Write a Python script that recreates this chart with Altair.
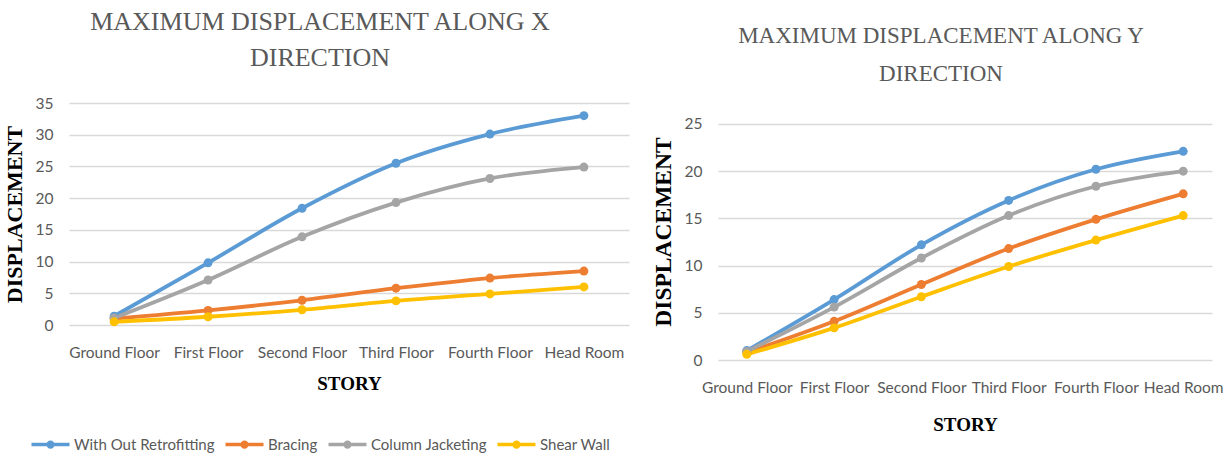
import altair as alt
import pandas as pd

stories = ["Ground Floor", "First Floor", "Second Floor", "Third Floor", "Fourth Floor", "Head Room"]
series = ["With Out Retrofitting", "Bracing", "Column Jacketing", "Shear Wall"]
colors = ["#5B9BD5", "#ED7D31", "#A5A5A5", "#FFC000"]

# Maximum displacement along X
x_without = [1.4, 9.8, 18.4, 25.5, 30.1, 33.0]
x_bracing = [1.0, 2.3, 3.9, 5.8, 7.4, 8.5]
x_jacketing = [1.1, 7.1, 13.9, 19.3, 23.1, 24.9]
x_shear = [0.5, 1.3, 2.4, 3.8, 4.9, 6.0]

# Maximum displacement along Y
y_without = [1.0, 6.4, 12.2, 16.9, 20.2, 22.1]
y_bracing = [0.8, 4.1, 8.0, 11.8, 14.9, 17.6]
y_jacketing = [0.9, 5.6, 10.8, 15.3, 18.4, 20.0]
y_shear = [0.6, 3.4, 6.7, 9.9, 12.7, 15.3]


def frame(values_by_series):
    rows = []
    for s, vals in zip(series, values_by_series):
        for st, v in zip(stories, vals):
            rows.append({"Story": st, "Series": s, "Displacement": v})
    return pd.DataFrame(rows)


df_x = frame([x_without, x_bracing, x_jacketing, x_shear])
df_y = frame([y_without, y_bracing, y_jacketing, y_shear])

TICK_FONT = "Lato"
TICK_SIZE = 15.5
SERIF = "Liberation Serif"
GREY_TEXT = "#595959"

# legend glyph: a short line with a dot in its middle
legend_symbol = "M-2,0H2M-0.25,0A0.25,0.25,0,1,0,0.25,0A0.25,0.25,0,1,0,-0.25,0Z"


def panel(df, title, y_domain, y_ticks, width, height, x_pad, legend,
          title_dx, title_offset, title_size, title_lh, ytitle_size, xtitle_pad):
    color_legend = None
    if legend:
        color_legend = alt.Legend(
            orient="none", legendX=-30, legendY=height + 108, direction="horizontal",
            title=None, symbolType=legend_symbol, symbolSize=361, symbolStrokeWidth=3.5,
            labelFont=TICK_FONT, labelFontSize=15, labelColor=GREY_TEXT,
            labelOffset=12, columnPadding=3,
        )
    x_enc = alt.X("Story:N", sort=stories, scale=alt.Scale(type="point", padding=x_pad),
                  axis=alt.Axis(title="STORY", labelAngle=0, domain=False, ticks=False,
                                labelFont=TICK_FONT, labelFontSize=TICK_SIZE, labelColor=GREY_TEXT,
                                labelPadding=20, titleFont=SERIF, titleFontSize=19,
                                titleFontWeight="bold", titleColor="#000000",
                                titlePadding=xtitle_pad))
    y_enc = alt.Y("Displacement:Q", scale=alt.Scale(domain=y_domain, nice=False, zero=True),
                  axis=alt.Axis(title="DISPLACEMENT", values=y_ticks, domain=False, ticks=False,
                                grid=True, gridColor="#D9D9D9", gridWidth=1.3,
                                labelFont=TICK_FONT, labelFontSize=TICK_SIZE, labelColor=GREY_TEXT,
                                labelPadding=16, titleFont=SERIF, titleFontSize=ytitle_size,
                                titleFontWeight="bold", titleColor="#000000", titlePadding=9))
    color_scale = alt.Scale(domain=series, range=colors)
    lines = alt.Chart(df).mark_line(interpolate="monotone", strokeWidth=3.8).encode(
        x=x_enc, y=y_enc,
        color=alt.Color("Series:N", sort=series, scale=color_scale, legend=color_legend),
    )
    dots = alt.Chart(df).mark_circle(size=80, opacity=1).encode(
        x=x_enc, y=y_enc,
        color=alt.Color("Series:N", sort=series, scale=color_scale, legend=None),
    )
    return alt.layer(lines, dots).properties(
        width=width, height=height,
        title=alt.TitleParams(title, font=SERIF, fontSize=title_size, fontWeight="normal",
                              color=GREY_TEXT, anchor="middle", dx=title_dx,
                              offset=title_offset, lineHeight=title_lh),
    )


left = panel(df_x, ["MAXIMUM DISPLACEMENT ALONG X", "DIRECTION"], [0, 35],
             [0, 5, 10, 15, 20, 25, 30, 35], 560, 222, 0.48, True,
             -29, 25, 26, 36, 22, 14)
right = panel(df_y, ["MAXIMUM DISPLACEMENT ALONG Y", "DIRECTION"], [0, 27.22],
              [0, 5, 10, 15, 20, 25], 494, 257, 0.33, False,
              -24, 17, 23, 38, 23.5, 20)

chart = alt.hconcat(left, right, spacing=22).resolve_scale(color="independent").configure(
    padding={"left": 3, "top": 9, "right": 0, "bottom": 0}
).configure_view(stroke=None)

chart.save("out.html", embed_options={"renderer": "svg", "actions": False})
